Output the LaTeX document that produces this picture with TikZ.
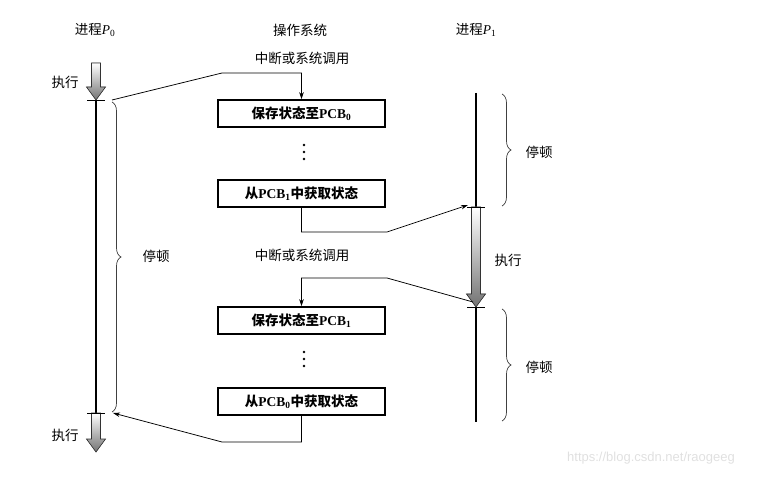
\documentclass[tikz,border=0pt]{standalone}
\usepackage{fontspec}
\setmainfont{Liberation Serif}
\newfontfamily\cjk{Noto Sans CJK SC}
\newfontfamily\wmfont{Liberation Sans}
\usetikzlibrary{arrows.meta,decorations.pathreplacing}
\newcommand\myharrow[3]{%
  \filldraw[line width=0.6pt, top color=white, bottom color=black!55, draw=black!80]
    (#1-4.5,#2) -- (#1-4.5,#3-13) -- (#1-9.5,#3-13) -- (#1,#3) -- (#1+9.5,#3-13)
    -- (#1+4.5,#3-13) -- (#1+4.5,#2) -- cycle;}
\newcommand\procname[1]{进程{\rmfamily\itshape P}\textsubscript{\rmfamily #1}}
\begin{document}
\begin{tikzpicture}[x=1pt,y=-1pt,
  box/.style={draw, line width=1.6pt, minimum width=167pt, minimum height=27pt, inner sep=0pt,
    font=\fontsize{13.5}{15}\selectfont},
  lab/.style={font=\cjk\fontsize{13.5}{15}\selectfont, inner sep=0pt},
  conn/.style={line width=0.75pt},
  tip/.style={-{Stealth[length=7pt,width=4.5pt]}},
  proc/.style={line width=2.6pt},
  tickline/.style={line width=0.8pt},
  bracestyle/.style={decorate, decoration={brace,amplitude=9pt,aspect=0.5}, line width=0.7pt, draw=black!75}]
\useasboundingbox (0,0) rectangle (766,478);

% titles
\node[lab] (t0) at (95,30) {\procname{0}};
\node[lab] (tos) at (300,30) {操作系统};
\node[lab] (t1) at (476,30) {\procname{1}};

% boxes
\node[box] (b1) at (301.5,113.5) {{\cjk\bfseries 保存状态至}\textbf{PCB\textsubscript{0}}};
\node[box] (b2) at (301.5,193.5) {{\cjk\bfseries 从}\textbf{PCB\textsubscript{1}}{\cjk\bfseries 中获取状态}};
\node[box] (b3) at (301.5,320.5) {{\cjk\bfseries 保存状态至}\textbf{PCB\textsubscript{1}}};
\node[box] (b4) at (301.5,401.5) {{\cjk\bfseries 从}\textbf{PCB\textsubscript{0}}{\cjk\bfseries 中获取状态}};

% dots
\foreach \y in {145,152,159} {\fill (304,\y) circle (1.3);}
\foreach \y in {352,359,366} {\fill (304,\y) circle (1.3);}

% labels
\node[lab] (i1) at (302,58) {中断或系统调用};
\node[lab] (i2) at (302,255) {中断或系统调用};
\node[lab] (e0a) at (65,82) {执行};
\node[lab] (e0b) at (65,435) {执行};
\node[lab] (e1) at (508,260) {执行};
\node[lab] (s0) at (156,256) {停顿};
\node[lab] (s1a) at (539,152) {停顿};
\node[lab] (s1b) at (539,367) {停顿};

% process P0
\coordinate (p0a) at (96,100);
\coordinate (p0b) at (96,413);
\myharrow{96}{63}{100}
\draw[proc] (p0a) -- (p0b);
\myharrow{96}{413}{452}
\draw[tickline] (87,100) -- (105,100);
\draw[tickline] (87,413) -- (105,413);
\draw[bracestyle] (112,102) -- (112,412);

% process P1
\coordinate (p1top) at (476,93);
\coordinate (p1a) at (476,207);
\coordinate (p1b) at (476,307);
\coordinate (p1end) at (476,422);
\draw[proc] (p1top) -- (p1a);
\myharrow{476}{207}{307}
\draw[proc] (p1b) -- (p1end);
\draw[tickline] (467,207) -- (485,207);
\draw[tickline] (467,307) -- (485,307);
\draw[bracestyle] (502,94) -- (502,206);
\draw[bracestyle] (502,309) -- (502,421);

% connectors
\coordinate (c1s) at (112,100);
\coordinate (c1m) at (222,73);
\coordinate (c1n) at (301.5,73);
\draw[conn,tip] (c1s) -- (c1m) -- (c1n) -- (b1.north);

\coordinate (c2m) at (301.5,232);
\coordinate (c2n) at (387,232);
\coordinate (c2e) at (468,205);
\draw[conn,tip] (b2.south) -- (c2m) -- (c2n) -- (c2e);

\coordinate (c3s) at (473,302);
\coordinate (c3m) at (387,278);
\coordinate (c3n) at (301.5,278);
\draw[conn,tip] (c3s) -- (c3m) -- (c3n) -- (b3.north);

\coordinate (c4m) at (301.5,442);
\coordinate (c4n) at (222,442);
\coordinate (c4e) at (113,413);
\draw[conn,tip] (b4.south) -- (c4m) -- (c4n) -- (c4e);

% watermark
\node[font=\wmfont\fontsize{13}{15}\selectfont, text=black!12] (wm) at (651,458) {https://blog.csdn.net/raogeeg};
\end{tikzpicture}
\end{document}
